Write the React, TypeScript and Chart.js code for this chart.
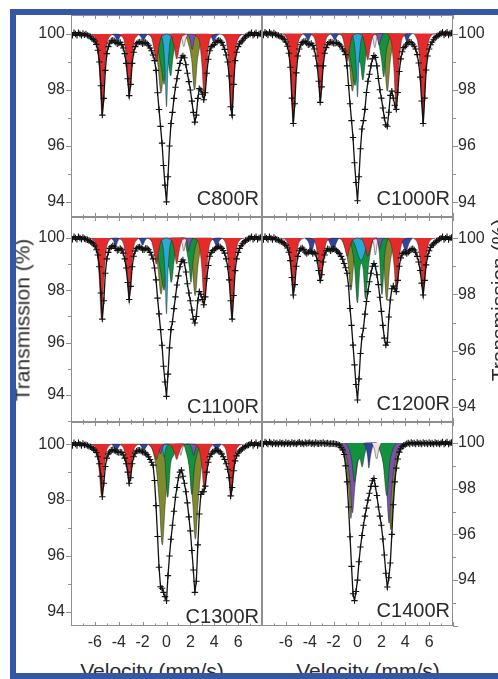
import React, { useEffect, useRef } from 'react';
import { Chart, registerables } from 'chart.js';
Chart.register(...registerables);

// ---------- data ----------
const velocity = [
  -8, -7.875, -7.75, -7.625, -7.5, -7.375, -7.25, -7.125,
  -7, -6.875, -6.75, -6.625, -6.5, -6.375, -6.25, -6.125,
  -6, -5.875, -5.75, -5.625, -5.5, -5.375, -5.25, -5.125,
  -5, -4.875, -4.75, -4.625, -4.5, -4.375, -4.25, -4.125,
  -4, -3.875, -3.75, -3.625, -3.5, -3.375, -3.25, -3.125,
  -3, -2.875, -2.75, -2.625, -2.5, -2.375, -2.25, -2.125,
  -2, -1.875, -1.75, -1.625, -1.5, -1.375, -1.25, -1.125,
  -1, -0.875, -0.75, -0.625, -0.5, -0.375, -0.25, -0.125,
  0, 0.125, 0.25, 0.375, 0.5, 0.625, 0.75, 0.875,
  1, 1.125, 1.25, 1.375, 1.5, 1.625, 1.75, 1.875,
  2, 2.125, 2.25, 2.375, 2.5, 2.625, 2.75, 2.875,
  3, 3.125, 3.25, 3.375, 3.5, 3.625, 3.75, 3.875,
  4, 4.125, 4.25, 4.375, 4.5, 4.625, 4.75, 4.875,
  5, 5.125, 5.25, 5.375, 5.5, 5.625, 5.75, 5.875,
  6, 6.125, 6.25, 6.375, 6.5, 6.625, 6.75, 6.875,
  7, 7.125, 7.25, 7.375, 7.5, 7.625, 7.75, 7.875,
  8,
];

const C800R_T = [
  100.0, 99.95, 100.05, 100.0, 99.95, 100.05, 100.0, 99.95,
  100.02, 99.97, 100.0, 99.95, 99.93, 99.9, 99.85, 99.8,
  99.75, 99.63, 99.42, 99.0, 98.15, 97.1, 97.7, 98.7,
  99.3, 99.55, 99.68, 99.75, 99.78, 99.75, 99.7, 99.65,
  99.68, 99.7, 99.62, 99.5, 99.3, 98.95, 98.4, 97.8,
  98.2, 98.95, 99.35, 99.55, 99.65, 99.7, 99.72, 99.7,
  99.65, 99.68, 99.7, 99.65, 99.6, 99.5, 99.4, 99.25,
  99.05, 98.7, 97.9, 97.3, 96.7, 96.1, 95.3, 94.6,
  94.0, 94.9, 96.0, 96.8, 97.2, 97.7, 98.1, 98.4,
  98.7, 98.95, 99.15, 99.22, 99.15, 98.9, 98.6, 98.3,
  98.0, 97.6, 97.2, 96.85, 97.1, 97.7, 98.05, 98.0,
  97.85, 97.65, 97.9, 98.6, 99.1, 99.4, 99.55, 99.6,
  99.62, 99.7, 99.75, 99.78, 99.75, 99.7, 99.6, 99.45,
  99.25, 99.0, 98.5, 97.4, 97.1, 98.2, 99.05, 99.35,
  99.55, 99.65, 99.72, 99.78, 99.85, 99.9, 99.95, 99.98,
  100.0, 100.05, 99.95, 100.0, 100.05, 99.95, 100.0, 100.02,
  100.0,
];

const C1000R_T = [
  100.0, 99.95, 100.05, 100.0, 99.95, 100.05, 100.0, 99.95,
  100.02, 99.97, 99.95, 99.93, 99.9, 99.88, 99.83, 99.78,
  99.7, 99.55, 99.3, 98.8, 97.7, 96.8, 97.5, 98.6,
  99.2, 99.45, 99.6, 99.68, 99.72, 99.72, 99.66, 99.6,
  99.62, 99.65, 99.58, 99.45, 99.2, 98.85, 98.3, 97.55,
  98.1, 98.85, 99.3, 99.5, 99.62, 99.68, 99.7, 99.68,
  99.65, 99.65, 99.68, 99.65, 99.6, 99.55, 99.45, 99.38,
  99.25, 98.85, 98.15, 97.5, 96.9, 96.3, 95.4, 94.7,
  94.05, 94.9, 95.9, 96.6, 96.9, 97.3, 97.9, 98.3,
  98.55, 98.85, 99.1, 99.22, 99.15, 98.85, 98.4, 98.0,
  97.7, 97.35, 97.0, 96.75, 96.7, 97.2, 97.8, 97.95,
  97.7, 97.45, 97.3, 97.9, 98.65, 99.1, 99.35, 99.5,
  99.55, 99.62, 99.68, 99.7, 99.68, 99.62, 99.55, 99.45,
  99.25, 98.95, 98.45, 97.6, 96.8, 97.7, 98.7, 99.2,
  99.45, 99.6, 99.7, 99.78, 99.85, 99.9, 99.93, 99.97,
  100.0, 100.05, 99.95, 100.0, 100.05, 99.95, 100.0, 100.02,
  100.0,
];

const C1100R_T = [
  100.0, 99.95, 100.05, 100.0, 99.95, 100.05, 100.0, 99.95,
  100.02, 99.97, 99.95, 99.93, 99.9, 99.87, 99.82, 99.77,
  99.7, 99.55, 99.35, 98.9, 97.9, 96.9, 97.6, 98.65,
  99.2, 99.45, 99.6, 99.66, 99.7, 99.68, 99.6, 99.52,
  99.55, 99.6, 99.55, 99.42, 99.2, 98.85, 98.3, 97.65,
  98.15, 98.9, 99.3, 99.5, 99.6, 99.65, 99.66, 99.62,
  99.55, 99.55, 99.6, 99.6, 99.55, 99.45, 99.35, 99.2,
  98.85, 98.4, 97.7, 97.1, 96.5, 95.9, 95.1, 94.5,
  93.95, 94.8, 95.8, 96.5, 96.8, 97.3, 97.75, 98.2,
  98.55, 98.9, 99.1, 99.16, 99.05, 98.7, 98.25, 97.9,
  97.6, 97.25, 96.9, 96.75, 97.0, 97.6, 97.95, 97.85,
  97.65, 97.45, 97.75, 98.45, 98.95, 99.3, 99.45, 99.52,
  99.55, 99.6, 99.65, 99.68, 99.66, 99.6, 99.52, 99.42,
  99.2, 98.9, 98.4, 97.6, 96.9, 97.8, 98.75, 99.2,
  99.45, 99.6, 99.7, 99.78, 99.85, 99.9, 99.93, 99.97,
  100.0, 100.05, 99.95, 100.0, 100.05, 99.95, 100.0, 100.02,
  100.0,
];

const C1200R_T = [
  100.0, 99.95, 100.05, 100.0, 99.95, 100.05, 100.0, 99.95,
  100.02, 99.97, 99.95, 99.93, 99.9, 99.88, 99.85, 99.8,
  99.75, 99.65, 99.5, 99.2, 98.6, 97.98, 98.35, 99.0,
  99.35, 99.55, 99.62, 99.65, 99.6, 99.5, 99.45, 99.5,
  99.55, 99.52, 99.45, 99.5, 99.45, 99.2, 98.85, 98.5,
  98.7, 99.15, 99.4, 99.55, 99.62, 99.6, 99.55, 99.6,
  99.62, 99.6, 99.55, 99.5, 99.45, 99.35, 99.25, 99.1,
  98.95, 98.75, 98.3, 97.5, 96.9, 96.2, 95.5, 94.8,
  94.25, 95.0, 95.9, 96.5, 96.8, 97.3, 97.75, 98.1,
  98.45, 98.75, 99.0, 99.1, 99.0, 98.7, 98.35, 97.9,
  97.4, 96.9, 96.45, 96.2, 96.3, 97.2, 97.8, 98.2,
  98.3, 98.2, 98.1, 98.5, 99.0, 99.3, 99.45, 99.5,
  99.5, 99.45, 99.5, 99.55, 99.6, 99.62, 99.58, 99.5,
  99.35, 99.15, 98.85, 98.4, 97.98, 98.5, 99.05, 99.35,
  99.55, 99.67, 99.75, 99.8, 99.85, 99.9, 99.93, 99.97,
  100.0, 100.05, 99.95, 100.0, 100.05, 99.95, 100.0, 100.02,
  100.0,
];

const C1300R_T = [
  100.0, 99.95, 100.05, 100.0, 99.95, 100.05, 100.0, 99.95,
  100.02, 99.97, 99.98, 99.95, 99.92, 99.9, 99.87, 99.82,
  99.78, 99.7, 99.55, 99.3, 98.85, 98.12, 98.6, 99.2,
  99.5, 99.65, 99.72, 99.78, 99.8, 99.78, 99.75, 99.72,
  99.7, 99.72, 99.7, 99.62, 99.5, 99.3, 99.0, 98.6,
  98.8, 99.3, 99.55, 99.68, 99.75, 99.78, 99.78, 99.75,
  99.72, 99.7, 99.68, 99.62, 99.55, 99.45, 99.35, 99.25,
  98.7, 97.8, 96.7, 95.6, 94.9, 94.85, 94.7, 94.55,
  94.4, 95.3, 96.0, 96.6, 97.1, 97.6, 98.1, 98.45,
  98.8, 99.0, 99.07, 98.85, 98.6, 98.3, 97.9, 97.4,
  96.9, 96.2, 95.5, 94.7, 95.1, 96.4, 97.5, 98.2,
  98.3, 98.3, 98.5, 99.0, 99.35, 99.55, 99.65, 99.72,
  99.75, 99.78, 99.78, 99.75, 99.72, 99.65, 99.55, 99.45,
  99.3, 99.1, 98.8, 98.15, 98.45, 99.05, 99.4, 99.58,
  99.68, 99.75, 99.8, 99.85, 99.88, 99.92, 99.95, 99.97,
  100.0, 100.05, 99.95, 100.0, 100.05, 99.95, 100.0, 100.02,
  100.0,
];

const C1400R_T = [
  100.0, 99.95, 100.05, 100.0, 99.95, 100.05, 100.0, 99.95,
  100.02, 99.97, 100.0, 99.95, 100.03, 99.98, 100.0, 99.95,
  100.02, 99.97, 100.0, 99.95, 100.03, 99.98, 100.0, 99.95,
  100.0, 100.04, 99.97, 100.0, 99.95, 100.02, 99.98, 100.0,
  100.03, 99.97, 100.0, 99.96, 100.02, 99.98, 99.97, 100.0,
  99.98, 100.02, 99.97, 99.98, 100.0, 99.96, 99.98, 99.97,
  99.98, 99.96, 99.95, 99.93, 99.9, 99.8, 99.7, 99.5,
  99.0, 98.3, 97.2, 95.9, 94.6, 93.4, 93.1, 93.5,
  94.0, 94.8, 95.45, 95.95, 96.4, 96.8, 97.15, 97.5,
  97.8, 98.1, 98.35, 98.45, 98.1, 97.7, 97.2, 96.8,
  96.4, 95.8, 95.1, 94.3, 93.7, 94.1, 94.75, 96.0,
  97.3, 98.3, 98.9, 99.3, 99.6, 99.75, 99.85, 99.9,
  99.93, 99.97, 100.0, 99.96, 100.02, 99.98, 100.0, 99.95,
  100.03, 99.97, 100.0, 99.96, 100.02, 99.98, 100.0, 99.96,
  100.02, 99.97, 100.0, 99.95, 100.03, 99.98, 100.0, 99.95,
  100.0, 100.05, 99.95, 100.0, 100.05, 99.95, 100.0, 100.02,
  100.0,
];

// ---------- fitted sub-spectra (velocity, transmission) ----------
const C800R_red = [
  [-6.5, 100], [-6.0, 99.88], [-5.8, 99.6], [-5.6, 98.6], [-5.4, 97.1], [-5.2, 98.6], [-5.0, 99.6], [-4.8, 99.88], [-4.3, 100],
  [-4.2, 100], [-3.72, 99.9], [-3.52, 99.7], [-3.32, 98.9], [-3.12, 97.75], [-2.92, 98.9], [-2.72, 99.7], [-2.52, 99.9], [-2.0, 100],
  [-1.9, 100], [-1.46, 99.96], [-1.26, 99.88], [-1.06, 99.5], [-0.86, 99.0], [-0.66, 99.5], [-0.46, 99.88], [-0.26, 99.96], [0, 100],
  [0.26, 99.96], [0.46, 99.88], [0.66, 99.5], [0.86, 99.1], [1.06, 99.5], [1.26, 99.88], [1.46, 99.96], [2.0, 100],
  [2.2, 100], [2.57, 99.9], [2.77, 99.7], [2.97, 98.9], [3.17, 97.65], [3.37, 98.9], [3.57, 99.7], [3.77, 99.9], [4.3, 100],
  [4.4, 100], [4.87, 99.88], [5.07, 99.6], [5.27, 98.6], [5.47, 97.05], [5.67, 98.6], [5.87, 99.6], [6.07, 99.88], [6.6, 100],
];
const C800R_blue = [
  [-4.6, 100], [-4.3, 99.9], [-4.1, 99.72], [-3.9, 99.9], [-3.6, 100], [-2.4, 100], [-2.15, 99.9], [-1.95, 99.75], [-1.75, 99.9], [-1.5, 100],
  [1.6, 100], [1.85, 99.9], [2.05, 99.75], [2.25, 99.9], [2.5, 100], [3.5, 100], [3.75, 99.9], [3.95, 99.72], [4.15, 99.9], [4.45, 100],
];
const C800R_olive = [
  [-1.45, 100], [-1.05, 99.7], [-0.75, 99.0], [-0.45, 97.9], [-0.2, 99.0], [0.1, 99.7], [0.5, 100],
  [1.5, 100], [1.8, 99.7], [2.1, 99.1], [2.35, 98.0], [2.6, 99.1], [2.9, 99.7], [3.3, 100],
];
const C800R_green = [
  [-1.15, 100], [-0.9, 99.8], [-0.65, 99.3], [-0.4, 98.7], [-0.2, 98.2], [0.0, 98.9], [0.12, 99.0], [0.35, 98.5], [0.55, 99.2], [0.8, 99.75], [1.1, 100],
];
const C800R_cyan = [[-0.45, 100], [-0.25, 99.55], [-0.12, 98.7], [0.0, 97.4], [0.12, 98.7], [0.25, 99.55], [0.45, 100]];
const C800R_purple = [[1.7, 100], [1.95, 99.85], [2.15, 99.45], [2.35, 99.85], [2.6, 100]];
const C800R_pink = [[1.1, 100], [1.3, 99.8], [1.45, 99.55], [1.6, 99.8], [1.8, 100]];

const C1000R_red = [
  [-6.5, 100], [-5.99, 99.88], [-5.79, 99.55], [-5.59, 98.45], [-5.39, 96.8], [-5.19, 98.45], [-4.99, 99.55], [-4.79, 99.88], [-4.3, 100],
  [-4.2, 100], [-3.7, 99.9], [-3.5, 99.65], [-3.3, 98.8], [-3.1, 97.55], [-2.9, 98.8], [-2.7, 99.65], [-2.5, 99.9], [-2.0, 100],
  [-1.9, 100], [-1.46, 99.96], [-1.26, 99.88], [-1.06, 99.5], [-0.86, 99.0], [-0.66, 99.5], [-0.46, 99.88], [-0.26, 99.96], [0, 100],
  [0.26, 99.96], [0.46, 99.88], [0.66, 99.5], [0.86, 99.05], [1.06, 99.5], [1.26, 99.88], [1.46, 99.96], [2.0, 100],
  [2.3, 100], [2.65, 99.9], [2.85, 99.65], [3.05, 98.75], [3.25, 97.3], [3.45, 98.75], [3.65, 99.65], [3.85, 99.9], [4.4, 100],
  [4.5, 100], [4.9, 99.88], [5.1, 99.55], [5.3, 98.45], [5.5, 96.8], [5.7, 98.45], [5.9, 99.55], [6.1, 99.88], [6.6, 100],
];
const C1000R_blue = [
  [-4.6, 100], [-4.35, 99.9], [-4.15, 99.72], [-3.95, 99.9], [-3.7, 100], [-2.35, 100], [-2.1, 99.9], [-1.9, 99.75], [-1.7, 99.9], [-1.45, 100],
  [1.55, 100], [1.75, 99.9], [1.95, 99.72], [2.15, 99.9], [2.4, 100], [3.7, 100], [3.95, 99.9], [4.15, 99.7], [4.35, 99.9], [4.6, 100],
];
const C1000R_olive = [
  [-1.4, 100], [-1.0, 99.7], [-0.7, 99.0], [-0.42, 97.95], [-0.15, 99.0], [0.15, 99.7], [0.5, 100],
  [1.6, 100], [1.95, 99.7], [2.25, 99.05], [2.5, 97.95], [2.75, 99.05], [3.05, 99.7], [3.4, 100],
];
const C1000R_green = [
  [-1.2, 100], [-0.95, 99.8], [-0.7, 99.3], [-0.45, 98.7], [-0.2, 98.15], [0.05, 98.9], [0.2, 99.0], [0.45, 98.35], [0.7, 99.2], [0.95, 99.75], [1.25, 100],
  [1.55, 100], [1.8, 99.6], [2.0, 99.1], [2.2, 98.45], [2.4, 99.3], [2.65, 99.8], [2.9, 100],
];
const C1000R_cyan = [[-0.45, 100], [-0.25, 99.6], [-0.12, 98.9], [0.0, 97.75], [0.12, 98.9], [0.25, 99.6], [0.45, 100]];
const C1000R_purple = [[1.5, 100], [1.7, 99.8], [1.8, 99.6], [1.95, 99.8], [2.15, 100]];
const C1000R_pink = [[1.1, 100], [1.3, 99.8], [1.45, 99.5], [1.6, 99.8], [1.8, 100]];

const C1100R_red = [
  [-6.5, 100], [-6.04, 99.88], [-5.84, 99.55], [-5.64, 98.5], [-5.44, 96.9], [-5.24, 98.5], [-5.04, 99.55], [-4.84, 99.88], [-4.35, 100],
  [-4.25, 100], [-3.74, 99.9], [-3.54, 99.65], [-3.34, 98.85], [-3.14, 97.65], [-2.94, 98.85], [-2.74, 99.65], [-2.54, 99.9], [-2.0, 100],
  [-1.9, 100], [-1.46, 99.96], [-1.26, 99.88], [-1.06, 99.5], [-0.86, 99.0], [-0.66, 99.5], [-0.46, 99.88], [-0.26, 99.96], [0, 100],
  [0.26, 99.96], [0.46, 99.88], [0.66, 99.5], [0.86, 99.0], [1.06, 99.5], [1.26, 99.88], [1.46, 99.96], [2.0, 100],
  [2.2, 100], [2.57, 99.9], [2.77, 99.65], [2.97, 98.8], [3.17, 97.45], [3.37, 98.8], [3.57, 99.65], [3.77, 99.9], [4.3, 100],
  [4.45, 100], [4.87, 99.88], [5.07, 99.55], [5.27, 98.5], [5.47, 96.9], [5.67, 98.5], [5.87, 99.55], [6.07, 99.88], [6.55, 100],
];
const C1100R_blue = [
  [-4.7, 100], [-4.45, 99.9], [-4.25, 99.7], [-4.05, 99.9], [-3.8, 100], [-2.4, 100], [-2.2, 99.9], [-2.0, 99.72], [-1.8, 99.9], [-1.55, 100],
  [1.6, 100], [1.85, 99.9], [2.05, 99.75], [2.25, 99.9], [2.5, 100], [3.7, 100], [3.95, 99.9], [4.2, 99.7], [4.45, 99.9], [4.7, 100],
];
const C1100R_olive = [
  [-1.45, 100], [-1.05, 99.7], [-0.75, 99.0], [-0.45, 97.85], [-0.2, 99.0], [0.1, 99.7], [0.45, 100],
  [1.55, 100], [1.85, 99.7], [2.15, 99.0], [2.4, 97.8], [2.65, 99.0], [2.95, 99.7], [3.3, 100],
];
const C1100R_green = [
  [-1.2, 100], [-0.95, 99.8], [-0.7, 99.25], [-0.45, 98.6], [-0.2, 98.0], [0.05, 98.8], [0.2, 98.9], [0.4, 98.3], [0.65, 99.15], [0.9, 99.75], [1.2, 100],
  [1.45, 100], [1.7, 99.5], [1.9, 98.9], [2.05, 98.3], [2.25, 99.2], [2.5, 99.8], [2.75, 100],
];
const C1100R_cyan = [[-0.45, 100], [-0.25, 99.5], [-0.12, 98.6], [0.0, 97.1], [0.12, 98.6], [0.25, 99.5], [0.45, 100]];
const C1100R_purple = [[1.55, 100], [1.75, 99.8], [1.85, 99.5], [2.0, 99.8], [2.2, 100]];
const C1100R_pink = [[1.1, 100], [1.3, 99.8], [1.45, 99.5], [1.6, 99.8], [1.8, 100]];

const C1200R_red = [
  [-6.4, 100], [-5.99, 99.92], [-5.79, 99.7], [-5.59, 99.0], [-5.39, 98.0], [-5.19, 99.0], [-4.99, 99.7], [-4.79, 99.92], [-4.35, 100],
  [-4.1, 100], [-3.68, 99.93], [-3.48, 99.75], [-3.28, 99.2], [-3.08, 98.45], [-2.88, 99.2], [-2.68, 99.75], [-2.48, 99.93], [-2.0, 100],
  [-1.9, 100], [-1.46, 99.97], [-1.26, 99.9], [-1.06, 99.65], [-0.86, 99.35], [-0.66, 99.65], [-0.46, 99.9], [-0.26, 99.97], [0, 100],
  [0.26, 99.97], [0.46, 99.9], [0.66, 99.65], [0.86, 99.35], [1.06, 99.65], [1.26, 99.9], [1.46, 99.97], [2.0, 100],
  [2.3, 100], [2.65, 99.93], [2.85, 99.72], [3.05, 99.1], [3.25, 98.15], [3.45, 99.1], [3.65, 99.72], [3.85, 99.93], [4.35, 100],
  [4.5, 100], [4.9, 99.92], [5.1, 99.7], [5.3, 99.0], [5.5, 98.0], [5.7, 99.0], [5.9, 99.7], [6.1, 99.92], [6.55, 100],
];
const C1200R_blue = [
  [-4.4, 100], [-4.1, 99.85], [-3.85, 99.5], [-3.6, 99.85], [-3.3, 100], [-2.6, 100], [-2.3, 99.8], [-2.05, 99.5], [-1.8, 99.8], [-1.5, 100],
  [1.6, 100], [1.85, 99.85], [2.05, 99.6], [2.25, 99.85], [2.5, 100], [3.5, 100], [3.8, 99.8], [4.05, 99.5], [4.3, 99.8], [4.6, 100],
];
const C1200R_olive = [
  [-1.4, 100], [-1.1, 99.75], [-0.8, 99.15], [-0.55, 98.15], [-0.3, 99.15], [0.0, 99.75], [0.35, 100],
  [1.6, 100], [1.9, 99.7], [2.2, 99.0], [2.45, 97.8], [2.7, 99.0], [3.0, 99.7], [3.35, 100],
];
const C1200R_green = [
  [-0.8, 100], [-0.5, 99.7], [-0.25, 99.0], [0.0, 97.7], [0.2, 98.9], [0.33, 99.1], [0.47, 98.9], [0.67, 97.85], [0.92, 99.0], [1.17, 99.7], [1.45, 100],
  [1.6, 100], [1.82, 99.5], [2.05, 98.0], [2.28, 99.4], [2.55, 100],
];
const C1200R_cyan = [[-0.5, 100], [-0.2, 99.75], [0.1, 99.35], [0.3, 99.2], [0.5, 99.35], [0.8, 99.75], [1.1, 100]];
const C1200R_purple = [[1.55, 100], [1.72, 99.85], [1.85, 99.6], [2.0, 99.85], [2.15, 100]];
const C1200R_pink = [[1.15, 100], [1.35, 99.8], [1.5, 99.4], [1.65, 99.8], [1.85, 100]];

const C1300R_red = [
  [-6.4, 100], [-6.04, 99.92], [-5.84, 99.72], [-5.64, 99.05], [-5.44, 98.15], [-5.24, 99.05], [-5.04, 99.72], [-4.84, 99.92], [-4.4, 100],
  [-4.2, 100], [-3.74, 99.94], [-3.54, 99.78], [-3.34, 99.28], [-3.14, 98.6], [-2.94, 99.28], [-2.74, 99.78], [-2.54, 99.94], [-2.05, 100],
  [-1.9, 100], [-1.46, 99.97], [-1.26, 99.9], [-1.06, 99.7], [-0.86, 99.45], [-0.66, 99.7], [-0.46, 99.9], [-0.26, 99.97], [0, 100],
  [0.26, 99.97], [0.46, 99.9], [0.66, 99.7], [0.86, 99.45], [1.06, 99.7], [1.26, 99.9], [1.46, 99.97], [2.0, 100],
  [2.2, 100], [2.57, 99.93], [2.77, 99.75], [2.97, 99.15], [3.17, 98.35], [3.37, 99.15], [3.57, 99.75], [3.77, 99.93], [4.25, 100],
  [4.4, 100], [4.82, 99.92], [5.02, 99.72], [5.22, 99.05], [5.42, 98.15], [5.62, 99.05], [5.82, 99.72], [6.02, 99.92], [6.45, 100],
];
const C1300R_blue = [
  [-4.6, 100], [-4.4, 99.9], [-4.2, 99.78], [-4.0, 99.9], [-3.8, 100], [-2.3, 100], [-2.1, 99.9], [-1.9, 99.78], [-1.7, 99.9], [-1.5, 100],
  [3.8, 100], [4.0, 99.9], [4.2, 99.8], [4.4, 99.9], [4.6, 100],
];
const C1300R_olive = [
  [-1.5, 100], [-1.15, 99.75], [-0.85, 99.1], [-0.6, 97.9], [-0.35, 96.4], [-0.1, 97.9], [0.15, 99.1], [0.45, 99.75], [0.8, 100],
  [1.4, 100], [1.7, 99.75], [1.95, 99.1], [2.2, 97.9], [2.42, 96.6], [2.65, 97.9], [2.9, 99.1], [3.2, 99.75], [3.55, 100],
];
const C1300R_green = [
  [-0.4, 100], [-0.15, 99.5], [0.1, 98.1], [0.35, 99.3], [0.6, 99.6], [0.85, 99.85], [1.1, 100],
  [1.4, 100], [1.65, 99.7], [1.9, 99.2], [2.12, 98.2], [2.35, 99.2], [2.6, 99.7], [2.9, 100],
];
const C1300R_cyan = [[-0.6, 100], [-0.35, 99.85], [-0.2, 99.55], [-0.05, 99.85], [0.2, 100]];
const C1300R_purple = [
  [-0.85, 100], [-0.65, 99.85], [-0.5, 99.65], [-0.35, 99.85], [-0.15, 100],
  [1.9, 100], [2.1, 99.85], [2.28, 99.6], [2.45, 99.85], [2.65, 100],
];
const C1300R_pink = [[0.9, 100], [1.05, 99.85], [1.2, 99.6], [1.35, 99.85], [1.5, 100]];

const C1400R_olive = [
  [-1.6, 100], [-1.25, 99.75], [-1.0, 99.2], [-0.75, 98.0], [-0.55, 96.7], [-0.35, 98.0], [-0.1, 99.2], [0.2, 99.75], [0.6, 100],
  [1.6, 100], [1.95, 99.75], [2.25, 99.2], [2.55, 98.0], [2.8, 96.2], [3.05, 98.0], [3.3, 99.2], [3.6, 99.75], [3.9, 100],
];
const C1400R_purple = [
  [-1.4, 100], [-1.1, 99.75], [-0.85, 99.2], [-0.62, 98.2], [-0.42, 96.95], [-0.2, 98.2], [0.05, 99.2], [0.35, 99.75], [0.7, 100],
  [1.55, 100], [1.85, 99.75], [2.15, 99.2], [2.42, 98.1], [2.65, 96.5], [2.88, 98.1], [3.15, 99.2], [3.45, 99.75], [3.75, 100],
];
const C1400R_green = [
  [-1.0, 100], [-0.75, 99.8], [-0.5, 99.3], [-0.25, 98.3], [0.0, 99.2], [0.2, 99.3], [0.39, 98.95], [0.6, 99.5], [0.85, 99.9], [1.1, 100],
  [1.55, 100], [1.85, 99.7], [2.15, 99.1], [2.45, 97.7], [2.7, 99.1], [2.95, 99.7], [3.25, 100],
];
const C1400R_blue = [[0.5, 100], [0.7, 99.8], [0.85, 99.4], [0.95, 98.9], [1.08, 99.4], [1.25, 99.8], [1.45, 100]];
const C1400R_pink = [[1.2, 100], [1.4, 99.75], [1.6, 99.3], [1.8, 99.75], [2.0, 100]];

const xTickValues = [-8, -7, -6, -5, -4, -3, -2, -1, 0, 1, 2, 3, 4, 5, 6, 7, 8];
const xLabelValues = [-6, -4, -2, 0, 2, 4, 6];
const yTickValues = [92, 93, 94, 95, 96, 97, 98, 99, 100];
const yLabelValues = [94, 96, 98, 100];

// ---------- styles ----------
const FONT = '"Liberation Sans", Arial, Helvetica, sans-serif';
const TEXT = '#2b2b2b';
const AXIS = '#8f8f8f';
const RED = '#e42a2a';
const GREEN = '#12913f';
const CYAN = '#2aa8d6';
const OLIVE = '#7f8a2e';
const PURPLE = '#7a52ad';
const BLUE = '#31439e';
const PINK = '#f2dfe5';
const FRAME_BLUE = '#3656a6';

type Comp = { pts: number[][]; color: string };
type PanelCfg = {
  title: string; T: number[]; comps: Comp[]; yMin: number; yMax: number;
  left: number; top: number; w: number; h: number;
  padL: number; padR: number; padB: number; side: 'left' | 'right'; xLabels: boolean; titleOff: number;
};

const panels: PanelCfg[] = [
  {
    title: 'C800R', T: C800R_T, yMin: 93.46, yMax: 100.68, left: 16, top: 15, w: 246, h: 202, padL: 55, padR: 0, padB: 0, side: 'left', xLabels: false, titleOff: 12,
    comps: [
      { pts: C800R_red, color: RED }, { pts: C800R_purple, color: PURPLE }, { pts: C800R_pink, color: PINK },
      { pts: C800R_cyan, color: CYAN }, { pts: C800R_green, color: GREEN }, { pts: C800R_olive, color: OLIVE }, { pts: C800R_blue, color: BLUE },
    ],
  },
  {
    title: 'C1000R', T: C1000R_T, yMin: 93.47, yMax: 100.66, left: 262, top: 15, w: 236, h: 202, padL: 0, padR: 45, padB: 0, side: 'right', xLabels: false, titleOff: 12,
    comps: [
      { pts: C1000R_red, color: RED }, { pts: C1000R_purple, color: PURPLE }, { pts: C1000R_pink, color: PINK },
      { pts: C1000R_cyan, color: CYAN }, { pts: C1000R_green, color: GREEN }, { pts: C1000R_olive, color: OLIVE }, { pts: C1000R_blue, color: BLUE },
    ],
  },
  {
    title: 'C1100R', T: C1100R_T, yMin: 92.97, yMax: 100.8, left: 16, top: 217, w: 246, h: 205, padL: 55, padR: 0, padB: 0, side: 'left', xLabels: false, titleOff: 9,
    comps: [
      { pts: C1100R_red, color: RED }, { pts: C1100R_purple, color: PURPLE }, { pts: C1100R_pink, color: PINK },
      { pts: C1100R_cyan, color: CYAN }, { pts: C1100R_green, color: GREEN }, { pts: C1100R_olive, color: OLIVE }, { pts: C1100R_blue, color: BLUE },
    ],
  },
  {
    title: 'C1200R', T: C1200R_T, yMin: 93.47, yMax: 100.75, left: 262, top: 217, w: 236, h: 205, padL: 0, padR: 45, padB: 0, side: 'right', xLabels: false, titleOff: 12,
    comps: [
      { pts: C1200R_red, color: RED }, { pts: C1200R_purple, color: PURPLE }, { pts: C1200R_pink, color: PINK },
      { pts: C1200R_cyan, color: CYAN }, { pts: C1200R_green, color: GREEN }, { pts: C1200R_olive, color: OLIVE }, { pts: C1200R_blue, color: BLUE },
    ],
  },
  {
    title: 'C1300R', T: C1300R_T, yMin: 93.5, yMax: 100.79, left: 16, top: 422, w: 246, h: 234, padL: 55, padR: 0, padB: 30, side: 'left', xLabels: true, titleOff: 3,
    comps: [
      { pts: C1300R_red, color: RED }, { pts: C1300R_pink, color: PINK }, { pts: C1300R_purple, color: PURPLE },
      { pts: C1300R_cyan, color: CYAN }, { pts: C1300R_green, color: GREEN }, { pts: C1300R_olive, color: OLIVE }, { pts: C1300R_blue, color: BLUE },
    ],
  },
  {
    title: 'C1400R', T: C1400R_T, yMin: 91.99, yMax: 100.92, left: 262, top: 422, w: 236, h: 234, padL: 0, padR: 45, padB: 30, side: 'right', xLabels: true, titleOff: 9,
    comps: [
      { pts: C1400R_pink, color: PINK }, { pts: C1400R_blue, color: BLUE }, { pts: C1400R_green, color: GREEN },
      { pts: C1400R_purple, color: PURPLE }, { pts: C1400R_olive, color: OLIVE },
    ],
  },
];

function framePlugin(p: PanelCfg) {
  return {
    id: 'panelFrame',
    afterDatasetsDraw(chart: any) {
      const { ctx, chartArea: a, scales } = chart;
      const xs = scales.x;
      const ys = scales.y;
      ctx.save();
      ctx.strokeStyle = AXIS;
      ctx.lineWidth = 1;
      ctx.strokeRect(a.left + 0.5, a.top + 0.5, a.right - a.left - 1, a.bottom - a.top - 1);
      ctx.beginPath();
      for (const v of xTickValues) {
        const px = Math.round(xs.getPixelForValue(v)) + 0.5;
        const len = v % 2 === 0 ? 4 : 2.5;
        ctx.moveTo(px, a.top); ctx.lineTo(px, a.top + len);
        ctx.moveTo(px, a.bottom); ctx.lineTo(px, a.bottom - len);
      }
      for (const v of yTickValues) {
        if (v < ys.min || v > ys.max) continue;
        const py = Math.round(ys.getPixelForValue(v)) + 0.5;
        const len = v % 2 === 0 ? 5 : 3;
        if (p.side === 'left') { ctx.moveTo(a.left, py); ctx.lineTo(a.left - len, py); }
        else { ctx.moveTo(a.right, py); ctx.lineTo(a.right + len, py); }
      }
      ctx.stroke();
      ctx.fillStyle = TEXT;
      ctx.font = `16px ${FONT}`;
      ctx.textBaseline = 'middle';
      for (const v of yLabelValues) {
        const py = ys.getPixelForValue(v);
        if (p.side === 'left') { ctx.textAlign = 'right'; ctx.fillText(String(v), a.left - 6, py); }
        else { ctx.textAlign = 'left'; ctx.fillText(String(v), a.right + 5, py); }
      }
      if (p.xLabels) {
        ctx.textAlign = 'center';
        ctx.textBaseline = 'alphabetic';
        for (const v of xLabelValues) ctx.fillText(String(v), xs.getPixelForValue(v), a.bottom + 21);
      }
      ctx.font = `20px ${FONT}`;
      ctx.textAlign = 'right';
      ctx.textBaseline = 'alphabetic';
      ctx.fillText(p.title, a.right - 3, a.bottom - p.titleOff);
      ctx.restore();
    },
  };
}

function Panel({ p }: { p: PanelCfg }) {
  const ref = useRef<HTMLCanvasElement>(null);
  useEffect(() => {
    const dataPts = velocity.map((v, i) => ({ x: v, y: p.T[i] }));
    const datasets: any[] = [
      {
        data: dataPts, borderColor: '#111', borderWidth: 1.3, pointStyle: 'cross', pointRadius: 3.2,
        pointBorderWidth: 1.1, pointBorderColor: '#111', fill: false, tension: 0,
      },
      ...p.comps.map((c) => ({
        data: c.pts.map(([x, y]) => ({ x, y })), backgroundColor: c.color, borderColor: 'rgba(30,30,30,0.75)',
        borderWidth: 0.6, fill: { value: 100 }, pointRadius: 0, cubicInterpolationMode: 'monotone',
      })),
    ];
    const chart = new Chart(ref.current!, {
      type: 'line',
      data: { datasets },
      options: {
        animation: false, responsive: false, events: [],
        layout: { autoPadding: false, padding: { left: p.padL, right: p.padR, top: 0, bottom: p.padB } },
        scales: {
          x: { type: 'linear', min: -8, max: 8, display: false },
          y: { type: 'linear', min: p.yMin, max: p.yMax, display: false },
        },
        plugins: { legend: { display: false }, tooltip: { enabled: false } },
      },
      plugins: [framePlugin(p)],
    } as any);
    return () => chart.destroy();
  }, [p]);
  return (
    <canvas ref={ref} width={p.w} height={p.h}
      style={{ position: 'absolute', left: p.left, top: p.top, width: p.w, height: p.h }} />
  );
}

export default function App() {
  const label: React.CSSProperties = { position: 'absolute', fontSize: 21, color: TEXT, whiteSpace: 'nowrap', fontFamily: FONT, lineHeight: '21px' };
  return (
    <div style={{ position: 'absolute', left: 0, top: 0, width: 498, height: 679, overflow: 'hidden', background: '#fff' }}>
      {panels.map((p) => <Panel key={p.title} p={p} />)}
      <div style={{ ...label, left: 22, top: 320, transform: 'translate(-50%, -50%) rotate(-90deg)' }}>Transmission (%)</div>
      <div style={{ ...label, left: 498, top: 300, transform: 'translate(-50%, -50%) rotate(-90deg)' }}>Transmission (%)</div>
      <div style={{ ...label, left: 152, top: 660, transform: 'translateX(-50%)' }}>Velocity (mm/s)</div>
      <div style={{ ...label, left: 368, top: 660, transform: 'translateX(-50%)' }}>Velocity (mm/s)</div>
      <div style={{ position: 'absolute', left: 10, top: 9, width: 500, height: 670, border: `6px solid ${FRAME_BLUE}`, boxSizing: 'border-box' }} />
    </div>
  );
}
